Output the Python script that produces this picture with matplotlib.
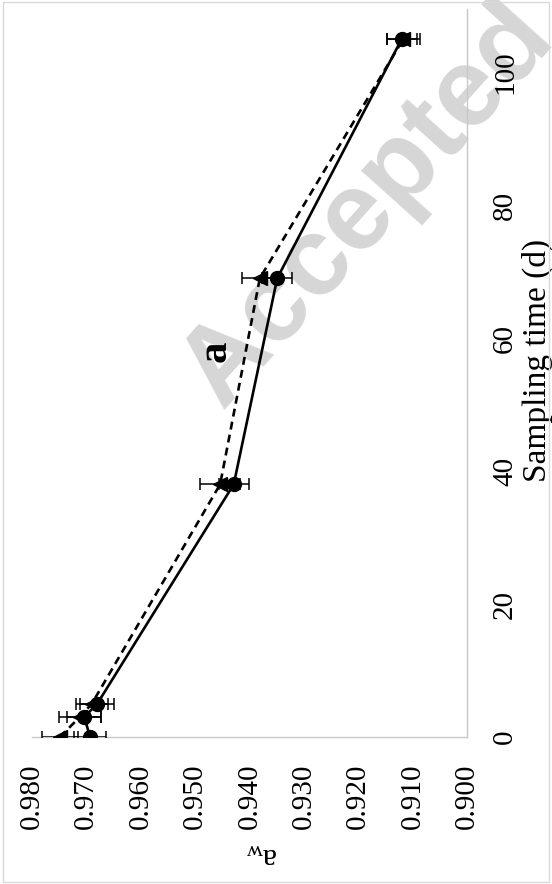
import matplotlib
matplotlib.use("Agg")
import matplotlib.pyplot as plt
from matplotlib.patches import Rectangle

# the chart is stored turned a quarter turn: a_w runs across, time runs up
days = [0, 3, 5, 38, 69, 105]
aw_circle = [0.9693, 0.9704, 0.9680, 0.9429, 0.9349, 0.9120]
err_circle = [0.0029, 0.0031, 0.0031, 0.0028, 0.0028, 0.0028]
aw_triangle = [0.9749, 0.9712, 0.9690, 0.9454, 0.9381, 0.9117]
err_triangle = [0.0033, 0.0038, 0.0030, 0.0037, 0.0033, 0.0030]

aw_ticks = [0.980, 0.970, 0.960, 0.950, 0.940, 0.930, 0.920, 0.910, 0.900]
day_ticks = [0, 20, 40, 60, 80, 100]

plt.rcParams['font.family'] = 'Liberation Serif'

W, H = 552, 884
fig = plt.figure(figsize=(W / 100, H / 100), dpi=100)
ax = fig.add_axes([32 / W, 1 - 737 / H, 435 / W, 728 / H])

grey = '#c8c8c8'

# page watermark, kept under the data
ax.text(368 / W, 1 - 205 / H, 'Accepted', transform=fig.transFigure,
        fontsize=80, fontweight='bold', family='Liberation Sans',
        color='#d6d6d6', rotation=48, ha='center', va='center',
        zorder=0, clip_on=False)

ax.errorbar(aw_triangle, days, xerr=err_triangle, fmt='<', linestyle=(0, (3, 2)),
            color='black', lw=1.9, ms=10, elinewidth=1.1, capsize=4.5, capthick=1.1,
            zorder=3)
ax.errorbar(aw_circle, days, xerr=err_circle, fmt='o', linestyle='-',
            color='black', lw=1.9, ms=10, elinewidth=1.1, capsize=4.5, capthick=1.1,
            zorder=4)

ax.set_xlim(0.980, 0.900)
ax.set_ylim(0, 109.5)

ax.set_xticks(aw_ticks)
ax.set_xticklabels([f'{v:.3f}' for v in aw_ticks], rotation=90, fontsize=21)
ax.set_yticks(day_ticks)
ax.set_yticklabels([str(v) for v in day_ticks], rotation=90, fontsize=21, va='center')
ax.yaxis.tick_right()
ax.tick_params(axis='both', length=0)
ax.tick_params(axis='x', pad=19)
ax.tick_params(axis='y', pad=18)

for side in ['top', 'left']:
    ax.spines[side].set_visible(False)
for side in ['bottom', 'right']:
    ax.spines[side].set_color(grey)
    ax.spines[side].set_linewidth(1.0)

ax.set_xlabel(r'$\mathregular{a_w}$', fontsize=23, rotation=180, ha='center', va='center')
ax.xaxis.set_label_coords((262 - 32) / 435, (737 - 855) / 728)
ax.yaxis.set_label_position('right')
ax.set_ylabel('Sampling time (d)', fontsize=24, rotation=90, ha='center', va='center')
ax.yaxis.set_label_coords((537 - 32) / 435, (737 - 360) / 728)

ax.text(0.9463, 58, 'a', fontsize=31, fontweight='bold', rotation=90,
        ha='center', va='center')

fig.patches.append(Rectangle((3 / W, 2 / H), 546 / W, 880 / H, transform=fig.transFigure,
                             fill=False, edgecolor='#d9d9d9', lw=1.0))

fig.savefig('out.png', dpi=100)
